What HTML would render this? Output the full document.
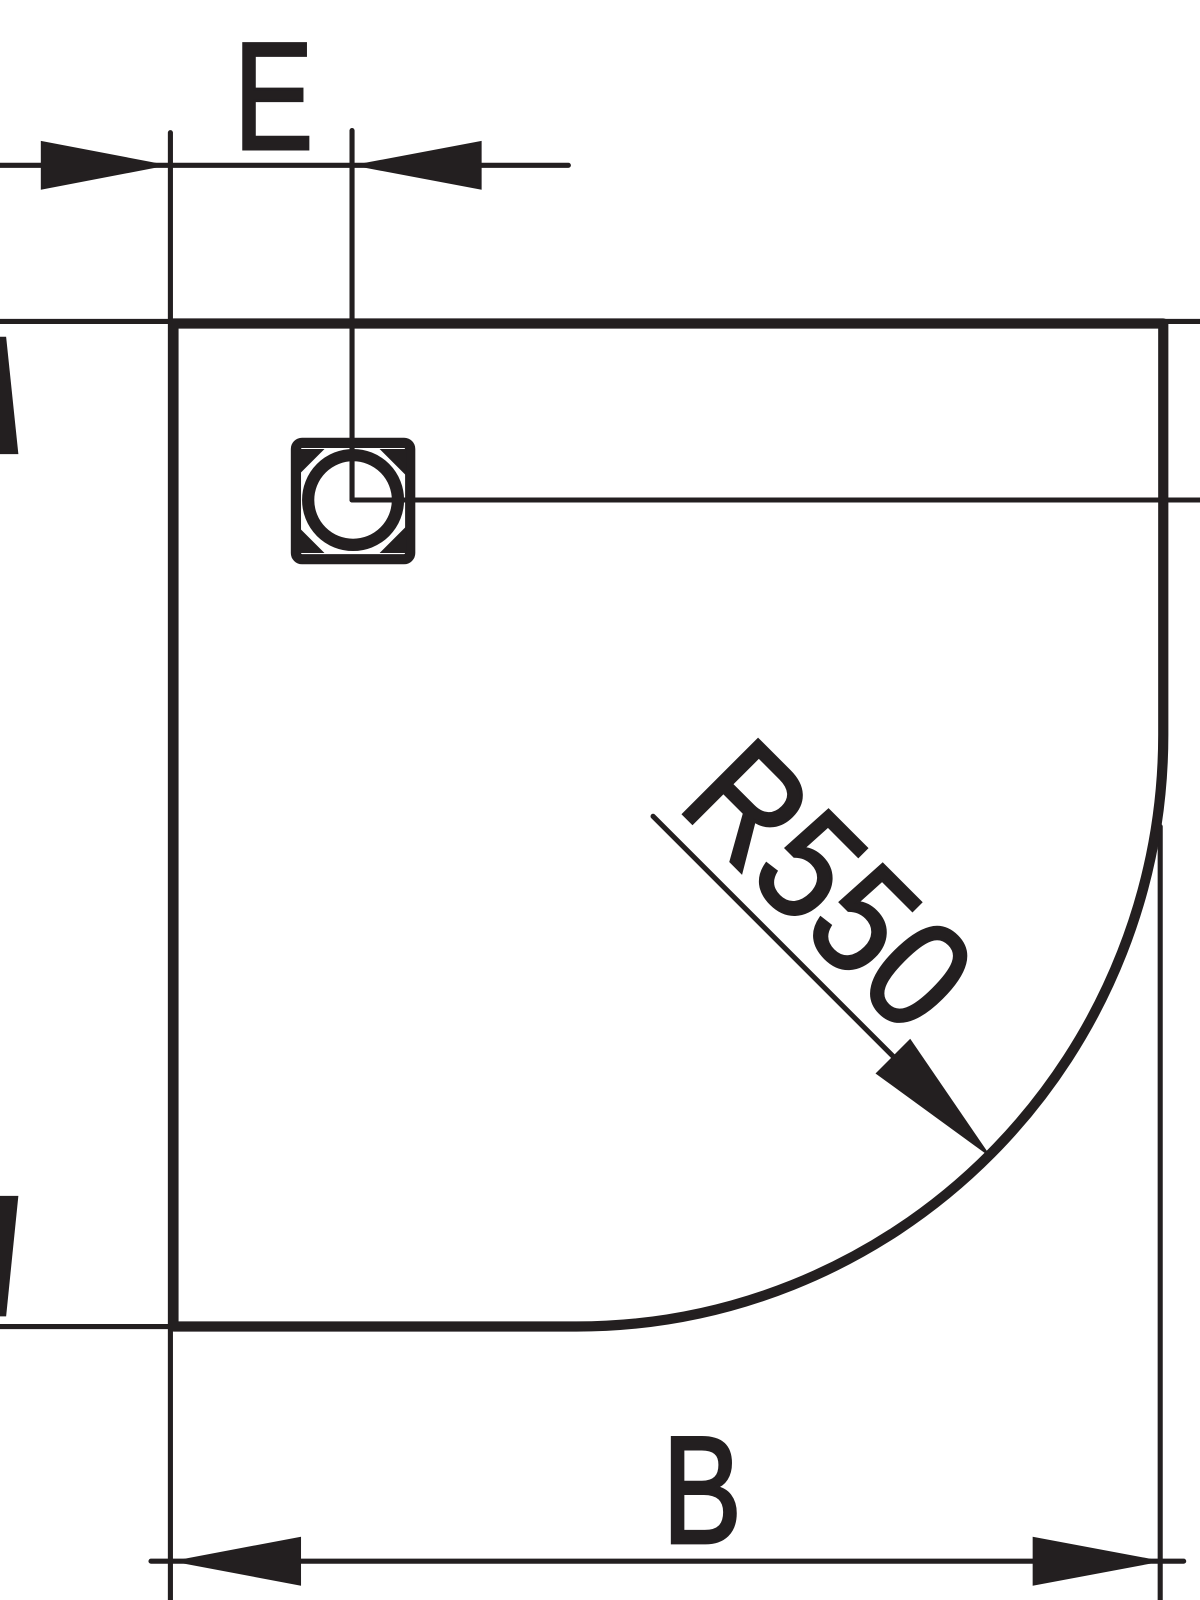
<!DOCTYPE html>
<html><head><meta charset="utf-8"><style>
html,body{margin:0;padding:0;background:#fff;}
svg{display:block;}
</style></head><body>
<svg width="1200" height="1600" viewBox="0 0 1176 1568" preserveAspectRatio="none" xmlns="http://www.w3.org/2000/svg">
<rect width="1176" height="1568" fill="#fff"/>
<g stroke="#231f20" fill="none" stroke-linecap="round">
<line x1="0" y1="162" x2="557" y2="162" stroke-width="5"/>
<line x1="167" y1="130" x2="167" y2="1568" stroke-width="5"/>
<line x1="345" y1="128" x2="345" y2="490" stroke-width="5"/>
<line x1="345" y1="490" x2="1176" y2="490" stroke-width="5"/>
<line x1="0" y1="315" x2="170" y2="315" stroke-width="5"/>
<line x1="1140" y1="315" x2="1176" y2="315" stroke-width="5"/>
<line x1="0" y1="1300" x2="170" y2="1300" stroke-width="5"/>
<line x1="1137" y1="810" x2="1137" y2="1568" stroke-width="5"/>
<line x1="148" y1="1530" x2="1160" y2="1530" stroke-width="5"/>
<line x1="640" y1="800" x2="880" y2="1040" stroke-width="5"/>
<path d="M170 317 H1140 V720 A575 580 0 0 1 565 1300 H170 Z" stroke-width="10" stroke-linejoin="round"/>
<rect x="290" y="434" width="112" height="114" rx="6" stroke-width="10"/>
<circle cx="346" cy="490" r="44" stroke-width="12"/>
</g>
<g fill="#231f20">
<polygon points="40,138 165,162 40,186"/>
<polygon points="472,138 345,162 472,186"/>
<polygon points="295,1506 168,1530 295,1554"/>
<polygon points="1012,1506 1140,1530 1012,1554"/>
<polygon points="858,1052 892,1018 972,1135"/>
<polygon points="0,330 6,330 18,445 0,445"/>
<polygon points="0,1290 6,1290 18,1172 0,1172"/>
<polygon points="292,440 318,440 292,466"/>
<polygon points="398,440 372,440 398,466"/>
<polygon points="292,542 318,542 292,516"/>
<polygon points="398,542 372,542 398,516"/>
</g>
<g font-family="'Liberation Sans',sans-serif" fill="#231f20" stroke="#231f20" stroke-width="3">
<text x="0" y="0" font-size="150" text-anchor="middle" transform="translate(268,146) scale(0.78,1)">E</text>
<text x="0" y="0" font-size="150" text-anchor="middle" transform="translate(688,1512) scale(0.78,1)">B</text>
<text x="0" y="0" font-size="150" transform="translate(662,790) rotate(45) scale(0.9,1)">R550</text>
</g>
</svg>
</body></html>
